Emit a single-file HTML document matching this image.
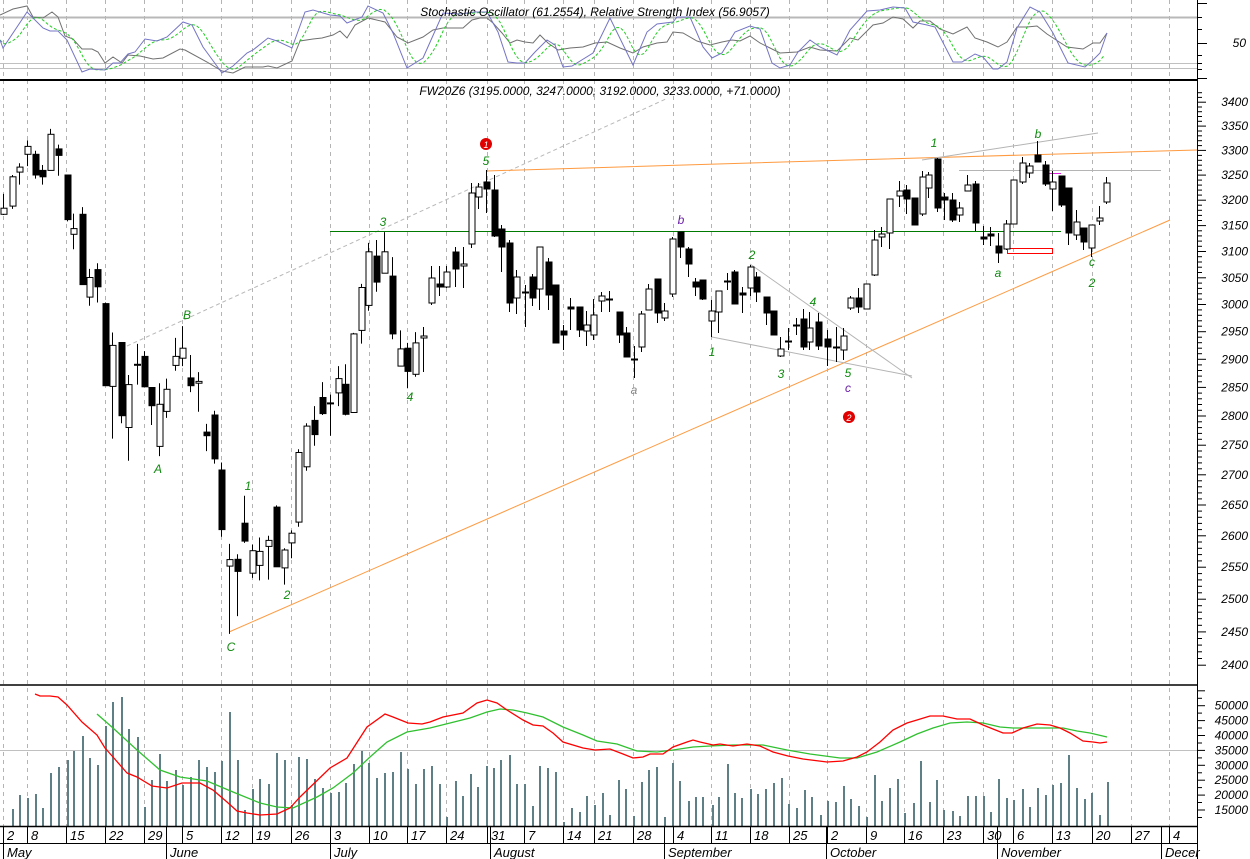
<!DOCTYPE html>
<html><head><meta charset="utf-8">
<style>
html,body{margin:0;padding:0;background:#fff;}
svg{display:block;font-family:"Liberation Sans",Arial,sans-serif;font-style:italic;}
</style></head>
<body>
<svg id="c" width="1250" height="859" xmlns="http://www.w3.org/2000/svg"></svg>
<script>
const S=document.getElementById('c');
let out='';
function ln(x1,y1,x2,y2,st,w,da){out+=`<line x1="${x1}" y1="${y1}" x2="${x2}" y2="${y2}" stroke="${st}" stroke-width="${w||1}"${da?` stroke-dasharray="${da}"`:''}/>`;}
function pl(pts,st,w,da){out+=`<polyline fill="none" points="${pts.map(p=>p.join(',')).join(' ')}" stroke="${st}" stroke-width="${w||1}"${da?` stroke-dasharray="${da}"`:''}/>`;}
function tx(x,y,t,fill,size,anchor){out+=`<text x="${x}" y="${y}" fill="${fill||'#000'}" font-size="${size||12}"${anchor?` text-anchor="${anchor}"`:''}>${t}</text>`;}
const ticks=[3,27,66,105,144,182,221,252,291,330,369,407,446,487,524,563,594,633,673,711,750,789,827,866,904,943,983,1013,1052,1092,1131,1169];
// grid
ticks.forEach(x=>ln(x+.5,0,x+.5,826,'#b4b4b4',1,'4,4'));
// top panel lines
ln(0,17.5,1197,17.5,'#b8b8b8',2);
ln(0,63.5,1197,63.5,'#c0c0c0',1);
ln(0,68.5,1197,68.5,'#c0c0c0',1);
ln(0,750.5,1197,750.5,'#c0c0c0',1);
// stochastic
const blue=[[0,40],[3,48],[27,12],[43,28],[50,31],[58,31],[67,40],[82,72],[90,69],[105,70],[113,63],[120,63],[128,54],[135,52],[145,39],[157,41],[167,37],[183,22],[192,25],[203,47],[222,73],[233,66],[247,53],[253,50],[268,38],[277,41],[292,48],[305,12],[313,10],[330,15],[340,16],[347,23],[362,17],[368,6],[383,13],[393,33],[407,68],[423,58],[443,13],[460,14],[475,12],[487,12],[498,32],[508,62],[517,63],[525,63],[535,52],[547,40],[555,45],[563,67],[572,66],[593,53],[610,18],[633,65],[647,32],[657,24],[673,22],[677,17],[690,17],[703,47],[712,58],[722,53],[735,32],[750,26],[760,29],[772,63],[780,68],[790,65],[798,52],[810,40],[820,47],[837,55],[850,30],[867,11],[880,10],[893,7],[905,8],[913,22],[927,25],[935,27],[953,62],[962,62],[975,54],[983,57],[993,69],[998,69],[1007,62],[1017,28],[1030,7],[1040,12],[1053,33],[1068,63],[1085,67],[1093,60],[1100,53],[1107,33]];
function interp(arr,x){for(let i=0;i<arr.length-1;i++){if(x>=arr[i][0]&&x<=arr[i+1][0]){const t=(x-arr[i][0])/(arr[i+1][0]-arr[i][0]||1);return arr[i][1]+t*(arr[i+1][1]-arr[i][1]);}}return arr[arr.length-1][1];}
const grn=[];for(let x=0;x<=1107;x+=4){let s=0,n=0;for(let k=0;k<=16;k+=2){const xx=x-k;if(xx>=0){s+=interp(blue,xx);n++;}}grn.push([x,(s/n).toFixed(1)]);}
const gray=[[0,15],[13,9],[27,6],[33,17],[43,18],[52,12],[58,17],[65,36],[73,39],[82,49],[92,49],[98,52],[105,63],[113,57],[122,63],[128,55],[140,56],[153,59],[163,58],[180,49],[185,50],[207,62],[222,71],[233,73],[245,67],[263,67],[268,66],[277,68],[292,61],[300,41],[313,39],[322,38],[333,35],[340,31],[347,38],[355,25],[368,18],[385,22],[397,37],[408,43],[423,37],[433,30],[443,28],[463,28],[472,20],[480,18],[487,18],[493,23],[502,33],[510,43],[517,40],[525,42],[533,43],[540,35],[548,43],[558,50],[570,48],[583,47],[595,43],[607,42],[620,48],[633,53],[643,47],[657,43],[667,42],[673,32],[683,33],[697,41],[710,45],[722,42],[732,40],[740,41],[750,36],[760,43],[770,48],[780,53],[797,52],[810,47],[820,50],[837,51],[850,38],[858,40],[873,25],[883,23],[893,17],[903,19],[913,28],[920,21],[930,21],[940,29],[953,34],[967,27],[975,38],[987,42],[998,47],[1007,42],[1017,27],[1027,27],[1037,26],[1047,34],[1067,47],[1083,49],[1093,43],[1100,43],[1107,33]];
pl(gray,'#707070',1);
pl(grn,'#22cc22',1,'3,2');
pl(blue,'#7474c4',1);
tx(595,16,'Stochastic Oscillator (61.2554), Relative Strength Index (56.9057)','#000',12,'middle');
// price mapping
const Y=p=>13246-1616.4*Math.log(p);
// title
tx(600,95,'FW20Z6 (3195.0000, 3247.0000, 3192.0000, 3233.0000, +71.0000)','#000',12,'middle');
// overlays
ln(127,346,668,98,'#b8b8b8',1,'4,3');
ln(229,632,1170,220,'#ff9a40',1);
pl([[486,171],[850,160],[1197,150]],'#ff9a40',1);
ln(330,231.5,1061,231.5,'#007a00',1);
ln(750,264,912,378,'#b4b4b4',1);
ln(712,337,912,376,'#b4b4b4',1);
ln(922,160,1098,133,'#b4b4b4',1);
ln(959,170.5,1161,170.5,'#b4b4b4',1);
out+=`<rect x="1007.5" y="248.5" width="45" height="5" fill="none" stroke="#ff0000" stroke-width="1"/>`;
ln(1045,173.5,1061,173.5,'#e020e0',1);
// candles zoom4-based
const A=[[3,303,320,263,322,1],[12,215,297,210,305,1],[19,188,202,177,237,1],[27,130,152,113,185,1],[35,152,210,142,220,0],[42,197,215,182,237,0],[50,96,197,81,197,1],[58,137,155,125,212,0],[67,210,335,210,340,0],[73,360,376,318,418,1],[82,320,517,300,517,0],[89,497,552,473,576,1],[97,475,523,457,567,0],[105,570,800,567,800,0],[112,687,802,651,948,1],[121,679,884,679,905,0],[128,797,917,770,1010,1],[137,740,740,683,797,1],[144,718,803,703,803,0],[151,805,856,805,910,0],[159,852,970,793,997,1],[166,810,872,780,890,1],[175,718,743,666,758,1],[182,695,723,633,745,1],[190,778,800,714,818,0],[198,788,793,762,873,1],[206,930,940,907,983,0],[214,882,1005,870,1018,0],[221,1036,1203,1015,1223,0],[229,1287,1305,1243,1495,1],[237,1286,1320,1272,1445,0],[244,1185,1235,1108,1240,0],[252,1262,1325,1245,1338,1],[259,1264,1303,1225,1345,1],[268,1233,1250,1220,1343,1],[276,1140,1307,1135,1307,0],[284,1260,1310,1255,1357,1],[291,1213,1240,1205,1283,1],[298,987,1182,978,1195,1],[306,913,1027,905,1038,1],[314,897,937,857,968,0],[322,833,878,790,882,0],[330,848,852,825,940,0],[338,780,820,745,857,1],[345,796,880,740,883,0],[353,655,875,652,875,1],[361,525,645,515,682,1],[368,425,575,400,590,1],[376,437,510,392,537,0],[384,425,485,370,485,1],[392,493,655,440,670,0],[400,697,745,645,745,1],[407,695,760,680,807,0],[415,680,768,650,775,1]];
const B=[[423,336,338,327,372,1],[431,278,303,266,305,1],[439,284,287,266,296,0],[446,272,287,266,288,1],[455,252,269,247,287,0],[463,264,266,247,288,1],[471,193,244,183,248,1],[478,187,197,183,209,1],[486,182,189,170,213,0],[494,190,236,175,237,0],[501,229,247,225,272,0],[509,243,303,240,312,0],[516,277,298,270,314,1],[525,292,292,285,327,0],[532,277,298,274,306,0],[539,247,289,247,310,1],[548,262,295,258,310,0],[555,285,343,285,343,0],[563,331,335,325,350,0],[570,307,309,298,330,0],[579,307,330,307,337,0],[586,325,331,311,346,1],[593,315,335,299,340,1],[601,296,301,292,312,1],[609,299,299,291,312,0],[619,312,335,312,343,0],[626,333,357,327,357,0],[634,359,359,346,378,0],[641,314,347,311,352,1],[648,289,310,284,310,1],[657,279,313,279,323,0],[664,311,318,303,321,1],[672,239,294,237,297,1],[680,232,247,232,258,0],[688,249,264,247,277,0],[695,282,287,278,296,0],[702,280,299,280,300,0],[711,311,321,300,337,1],[718,291,312,291,333,1],[727,281,281,273,290,0],[734,272,304,270,304,0],[742,293,295,287,313,0],[750,267,288,265,296,1],[756,277,292,272,302,0],[766,297,313,297,325,0],[773,311,335,311,335,0],[780,349,356,337,357,1],[788,341,341,328,350,0],[796,325,325,318,335,0],[803,319,347,309,350,0],[809,328,342,312,350,1],[818,322,346,313,350,0],[827,339,347,330,366,0],[836,347,347,327,362,0],[843,336,350,328,360,1],[850,298,308,296,310,1],[858,298,307,288,313,0],[866,284,309,284,309,1],[874,240,275,230,276,1],[881,234,237,227,247,1],[889,199,233,199,249,1],[899,191,196,181,207,1],[906,190,199,185,214,0],[914,198,225,198,225,0],[922,177,214,171,216,1],[928,175,188,172,198,1],[937,159,208,158,212,0],[944,197,200,193,220,0],[952,200,220,193,222,0],[959,208,215,202,222,1],[967,185,191,175,191,1],[975,184,223,181,231,0],[983,237,239,226,245,0],[990,234,236,227,246,0],[998,246,253,233,263,0],[1006,224,249,220,250,1],[1013,180,224,180,224,1],[1022,163,182,157,184,1],[1029,166,173,163,178,1],[1037,155,162,141,162,0],[1045,165,184,161,186,0],[1052,182,189,171,211,1],[1061,176,205,176,207,0],[1068,188,233,188,245,0],[1076,222,235,210,240,1],[1083,228,242,228,250,0],[1091,225,248,225,257,1],[1099,218,221,206,225,1],[1106,183,202,177,204,1]];
function candle(x,t,b,h,l,w){
  ln(x+.5,h,x+.5,l,'#000',1);
  if(b-t<1.5){ln(x-3,t+.5,x+4,t+.5,'#000',2);return;}
  out+=`<rect x="${x-2}" y="${t}" width="6" height="${b-t}" fill="${w?'#fff':'#000'}" stroke="#000" stroke-width="1"/>`;
}
A.forEach(c=>{const f=v=>+(100+v/2.8).toFixed(1);candle(c[0],f(c[1]),f(c[2]),f(c[3]),f(c[4]),c[5]);});
B.forEach(c=>candle(c[0],c[1],c[2],c[3],c[4],c[5]));
// wave labels
const G='#108a10',P='#6a1fa6';
[['B',187,319,G],['A',158,473,G],['1',248,490,G],['C',231,651,G],['2',287,599,G],['3',383,226,G],['4',410,401,G],['5',486,165,G],['b',681,224,P],['a',634,394,'#888'],['1',712,356,G],['2',752,259,G],['3',781,378,G],['4',813,306,G],['5',848,377,G],['c',848,392,P],['1',934,147,G],['b',1038,138,G],['a',998,277,G],['c',1092,266,G],['2',1092,287,G]].forEach(l=>tx(l[1],l[2],l[0],l[3],12,'middle'));
// red markers
[[486,144,'1'],[849,417,'2']].forEach(m=>{out+=`<circle cx="${m[0]}" cy="${m[1]}" r="6" fill="#e00000"/>`;tx(m[0],m[1]+4,m[2],'#fff',9,'middle');});
// volume bars
const V=[[12,809],[19,795],[27,798],[35,794],[42,808],[50,773],[58,767],[67,760],[73,751],[82,736],[89,758],[97,765],[105,726],[112,702],[121,697],[128,729],[137,737],[144,807],[151,780],[159,754],[166,781],[175,770],[182,785],[190,777],[198,760],[206,767],[214,772],[221,761],[229,712],[237,760],[244,810],[252,789],[259,779],[268,784],[276,753],[284,760],[291,805],[298,757],[306,759],[314,779],[322,788],[330,793],[338,792],[345,783],[353,764],[361,751],[368,763],[376,778],[384,773],[392,772],[400,752],[407,769],[415,784],[423,769],[431,766],[439,784],[446,817],[455,781],[462,796],[470,774],[477,787],[486,766],[493,768],[500,760],[509,755],[516,784],[524,784],[532,806],[539,766],[547,768],[555,772],[563,822],[571,808],[579,812],[586,796],[594,805],[602,793],[609,815],[618,780],[625,789],[633,816],[641,782],[648,770],[656,767],[664,817],[672,763],[679,781],[688,801],[695,797],[702,797],[712,805],[718,797],[727,764],[734,793],[741,798],[750,789],[757,794],[765,789],[773,783],[781,778],[788,804],[796,808],[804,790],[811,797],[820,815],[827,801],[835,802],[843,786],[850,799],[858,806],[866,817],[874,775],[881,801],[889,788],[897,779],[904,813],[913,803],[920,761],[929,802],[936,780],[943,810],[952,811],[959,816],[967,796],[975,796],[983,796],[990,812],[998,779],[1006,798],[1013,800],[1022,789],[1029,807],[1037,788],[1045,795],[1052,785],[1060,783],[1068,755],[1076,788],[1084,799],[1091,793],[1099,815],[1107,782]];
V.forEach(v=>out+=`<rect x="${v[0]}" y="${v[1]}" width="2" height="${826-v[1]}" fill="#5f7f86"/>`);
const red=[[35,694],[40,696],[50,696],[58,697],[67,705],[82,722],[97,735],[105,748],[113,757],[127,773],[137,777],[152,786],[167,788],[182,783],[200,783],[213,790],[227,802],[237,811],[247,813],[260,815],[277,814],[290,808],[300,797],[330,768],[347,758],[367,727],[385,714],[393,717],[408,723],[422,724],[430,722],[443,717],[463,713],[477,703],[487,700],[497,703],[507,710],[523,720],[533,725],[543,726],[553,733],[563,742],[583,748],[595,750],[610,749],[623,754],[633,758],[643,757],[650,754],[663,754],[673,747],[687,742],[693,740],[700,742],[713,745],[720,744],[733,746],[747,744],[760,746],[773,752],[788,756],[803,759],[827,762],[843,761],[857,757],[867,752],[880,742],[893,730],[907,723],[917,720],[930,716],[943,716],[957,719],[970,719],[983,725],[993,729],[1003,733],[1012,733],[1023,728],[1037,724],[1050,725],[1060,728],[1070,733],[1083,741],[1093,742],[1100,743],[1107,742]];
const gr2=[[97,714],[113,728],[137,750],[160,770],[180,777],[207,781],[233,792],[260,803],[277,807],[293,808],[317,797],[333,788],[353,773],[370,757],[387,742],[407,732],[430,728],[450,723],[470,718],[487,712],[500,709],[513,710],[527,713],[543,717],[563,727],[583,735],[597,741],[617,744],[637,751],[657,752],[673,750],[693,747],[710,746],[733,745],[763,745],[787,750],[810,754],[840,758],[857,758],[877,752],[900,742],[917,734],[933,728],[950,723],[967,722],[983,723],[1000,727],[1013,728],[1033,728],[1063,728],[1077,731],[1090,733],[1107,737]];
pl(gr2,'#30c030',1.3);
pl(red,'#ff0000',1.3);
// panel separators and frame
out+=`<rect x="1198" y="0" width="52" height="826" fill="#fff"/>`;
ln(0,80,1197,80,'#000',2);
ln(0,685,1197,685,'#000',1.5);
ln(1197.5,0,1197.5,859,'#000',1);
ln(0,826.5,1197,826.5,'#000',1.5);
ln(0,843.5,1197,843.5,'#000',1);
// date axis
const dl=['2','8','15','22','29','5','12','19','26','3','10','17','24','31','7','14','21','28','4','11','18','25','2','9','16','23','30','6','13','20','27','4'];
ticks.forEach((x,i)=>{ln(x+.5,826,x+.5,843,'#000',1);tx(x+4,840,dl[i],'#000',13);});
[[3,'May'],[166,'June'],[330,'July'],[490,'August'],[664,'September'],[826,'October'],[997,'November'],[1161,'Decer']].forEach(m=>{ln(m[0]+.5,826,m[0]+.5,859,'#000',1);tx(m[0]+4,857,m[1],'#000',13);});
// right axis main
for(let p=2400;p<=3420;p+=10){const y=Y(p);if(y<84||y>683)continue;const big=p%50==0;ln(1197,y.toFixed(1),big?1206:1202,y.toFixed(1),'#000',1);}
for(let p=2400;p<=3400;p+=50){const y=Y(p);tx(1248,(y+4).toFixed(1),p,'#000',12,'end');}
// top axis
[[3,1207],[17,1202],[29,1202],[43,1207],[55,1202],[63,1202],[69,1202],[78,1207]].forEach(t=>ln(1197,t[0]+.5,t[1],t[0]+.5,'#000',1));
tx(1246,47,'50','#000',12,'end');
// volume axis
for(let v=12500;v<=55000;v+=2500){const y=810-(v-15000)*0.00298;if(y<687||y>825)continue;ln(1197,y.toFixed(1),v%5000==0?1205:1202,y.toFixed(1),'#000',1);}
for(let v=15000;v<=50000;v+=5000){const y=810-(v-15000)*0.00298;tx(1248,(y+4).toFixed(1),v,'#000',12,'end');}
S.innerHTML=out;
</script>
</body></html>
